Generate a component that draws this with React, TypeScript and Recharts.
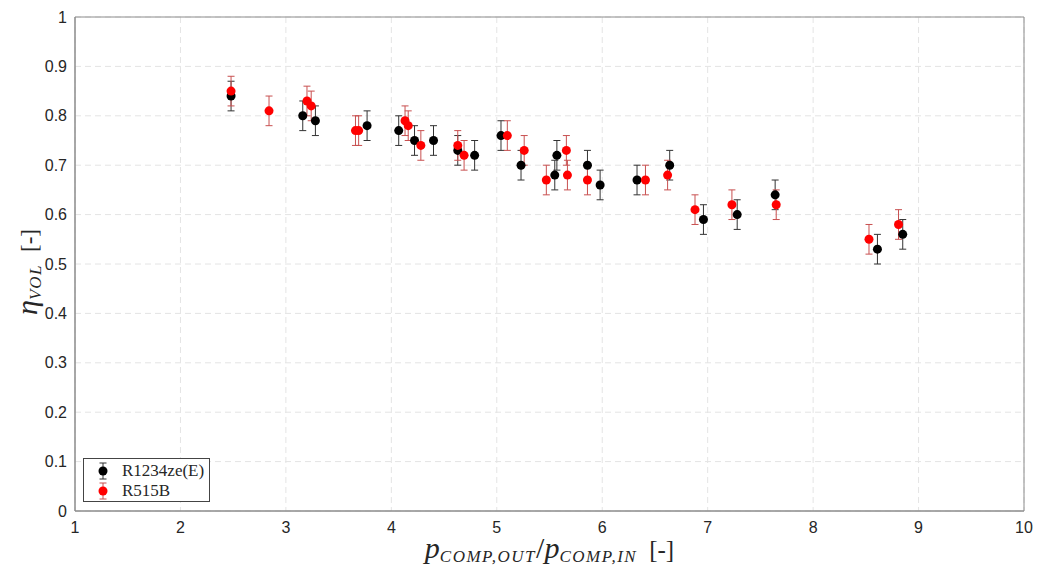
import {
  CartesianGrid,
  ErrorBar,
  Label,
  Legend,
  ReferenceArea,
  Scatter,
  ScatterChart,
  XAxis,
  YAxis,
} from 'recharts';

const r1234zeX = [2.48, 3.16, 3.28, 3.77, 4.07, 4.22, 4.4, 4.63, 4.79, 5.04, 5.23, 5.55, 5.57, 5.86, 5.98, 6.33, 6.64, 6.96, 7.28, 7.64, 8.61, 8.85];
const r1234zeY = [0.84, 0.8, 0.79, 0.78, 0.77, 0.75, 0.75, 0.73, 0.72, 0.76, 0.7, 0.68, 0.72, 0.7, 0.66, 0.67, 0.7, 0.59, 0.6, 0.64, 0.53, 0.56];
const r1234zeErr = [0.03, 0.03, 0.03, 0.03, 0.03, 0.03, 0.03, 0.03, 0.03, 0.03, 0.03, 0.03, 0.03, 0.03, 0.03, 0.03, 0.03, 0.03, 0.03, 0.03, 0.03, 0.03];

const r515bX = [2.48, 2.84, 3.2, 3.24, 3.66, 3.69, 4.13, 4.16, 4.28, 4.63, 4.69, 5.1, 5.26, 5.47, 5.66, 5.67, 5.86, 6.41, 6.62, 6.88, 7.23, 7.65, 8.53, 8.81];
const r515bY = [0.85, 0.81, 0.83, 0.82, 0.77, 0.77, 0.79, 0.78, 0.74, 0.74, 0.72, 0.76, 0.73, 0.67, 0.73, 0.68, 0.67, 0.67, 0.68, 0.61, 0.62, 0.62, 0.55, 0.58];
const r515bErr = [0.03, 0.03, 0.03, 0.03, 0.03, 0.03, 0.03, 0.03, 0.03, 0.03, 0.03, 0.03, 0.03, 0.03, 0.03, 0.03, 0.03, 0.03, 0.03, 0.03, 0.03, 0.03, 0.03, 0.03];

const xTicks = [1, 2, 3, 4, 5, 6, 7, 8, 9, 10];
const yTicks = [0, 0.1, 0.2, 0.3, 0.4, 0.5, 0.6, 0.7, 0.8, 0.9, 1];

const seriesNames = ['R1234ze(E)', 'R515B'];

const toPoints = (xs: number[], ys: number[], errs: number[]) =>
  xs.map((x, i) => ({ x, y: ys[i], err: errs[i] }));

const r1234zeData = toPoints(r1234zeX, r1234zeY, r1234zeErr);
const r515bData = toPoints(r515bX, r515bY, r515bErr);

const tickStyle = { fontFamily: 'Liberation Sans, Arial, sans-serif', fontSize: 16, fill: '#262626' };
const frame = '#8c8c8c';

const XLabel = ({ viewBox }: any) => {
  const cx = viewBox.x + viewBox.width / 2;
  return (
    <text x={cx} y={viewBox.y + 47} textAnchor="middle" fontFamily="Liberation Serif, serif" fill="#262626">
      <tspan fontSize={30} fontStyle="italic">p</tspan>
      <tspan fontSize={17} fontStyle="italic" dy={4} letterSpacing={1.5}>COMP,OUT</tspan>
      <tspan fontSize={30} dy={-4}>/</tspan>
      <tspan fontSize={30} fontStyle="italic">p</tspan>
      <tspan fontSize={17} fontStyle="italic" dy={4} letterSpacing={1.5}>COMP,IN</tspan>
      <tspan fontSize={25} dy={-4} dx={12}>[-]</tspan>
    </text>
  );
};

const YLabel = ({ viewBox }: any) => {
  const x = 37;
  const y = viewBox.y + viewBox.height / 2 + 8;
  return (
    <text x={x} y={y} textAnchor="middle" transform={`rotate(-90, ${x}, ${y})`} fontFamily="Liberation Serif, serif" fill="#262626">
      <tspan fontSize={30} fontStyle="italic">η</tspan>
      <tspan fontSize={17} fontStyle="italic" dy={4} letterSpacing={1.5}>VOL</tspan>
      <tspan fontSize={23} dy={-4} dx={12}>[-]</tspan>
    </text>
  );
};

const LegendMarker = ({ dot, bar }: { dot: string; bar: string }) => (
  <svg width={20} height={20} style={{ display: 'block' }}>
    <line x1={10} y1={2} x2={10} y2={18} stroke={bar} />
    <line x1={6.5} y1={2} x2={13.5} y2={2} stroke={bar} />
    <line x1={6.5} y1={18} x2={13.5} y2={18} stroke={bar} />
    <circle cx={10} cy={10} r={4.5} fill={dot} />
  </svg>
);

const LegendBox = () => (
  <div
    style={{
      border: '1px solid #444',
      background: '#fff',
      width: 127,
      height: 44,
      boxSizing: 'border-box',
      padding: '1px 0 0 9px',
      fontFamily: 'Liberation Serif, serif',
      fontSize: 17,
      color: '#262626',
    }}
  >
    <div style={{ display: 'flex', alignItems: 'center', height: 21 }}>
      <LegendMarker dot="#000" bar="#333" />
      <span style={{ marginLeft: 9 }}>{seriesNames[0]}</span>
    </div>
    <div style={{ display: 'flex', alignItems: 'center', height: 20 }}>
      <LegendMarker dot="#ff0000" bar="#c85050" />
      <span style={{ marginLeft: 9 }}>{seriesNames[1]}</span>
    </div>
  </div>
);

const App = () => {
  return (
    <div style={{ position: 'absolute', left: 0, top: 0, background: '#fff' }}>
      <ScatterChart width={1052} height={568} margin={{ top: 17, right: 28, bottom: 0, left: 0 }}>
        <CartesianGrid stroke="#e4e4e4" strokeDasharray="6 4" />
        <XAxis
          type="number"
          dataKey="x"
          domain={[1, 10]}
          ticks={xTicks}
          height={57}
          tick={tickStyle}
          tickLine={false}
          tickSize={6}
          tickMargin={5}
          axisLine={{ stroke: frame }}
          allowDataOverflow
        >
          <Label content={<XLabel />} />
        </XAxis>
        <YAxis
          type="number"
          dataKey="y"
          domain={[0, 1]}
          ticks={yTicks}
          width={75}
          tick={tickStyle}
          tickLine={false}
          tickSize={6}
          tickMargin={2}
          axisLine={{ stroke: frame }}
          allowDataOverflow
        >
          <Label content={<YLabel />} />
        </YAxis>
        <ReferenceArea x1={1} x2={10} y1={0} y2={1} fill="none" stroke={frame} ifOverflow="visible" />
        <Scatter name={seriesNames[0]} data={r1234zeData} fill="#000" shape={(p: any) => <circle cx={p.cx} cy={p.cy} r={4.5} fill="#000" />} isAnimationActive={false}>
          <ErrorBar dataKey="err" direction="y" width={3.5} stroke="#333" strokeWidth={1} />
        </Scatter>
        <Scatter name={seriesNames[1]} data={r515bData} fill="#ff0000" shape={(p: any) => <circle cx={p.cx} cy={p.cy} r={4.5} fill="#ff0000" />} isAnimationActive={false}>
          <ErrorBar dataKey="err" direction="y" width={3.5} stroke="#c85050" strokeWidth={1} />
        </Scatter>
        <Legend
          layout="vertical"
          align="center"
          verticalAlign="middle"
          content={<LegendBox />}
          wrapperStyle={{ left: 83, top: 458, width: 127, height: 44 }}
        />
      </ScatterChart>
    </div>
  );
};

export default App;
